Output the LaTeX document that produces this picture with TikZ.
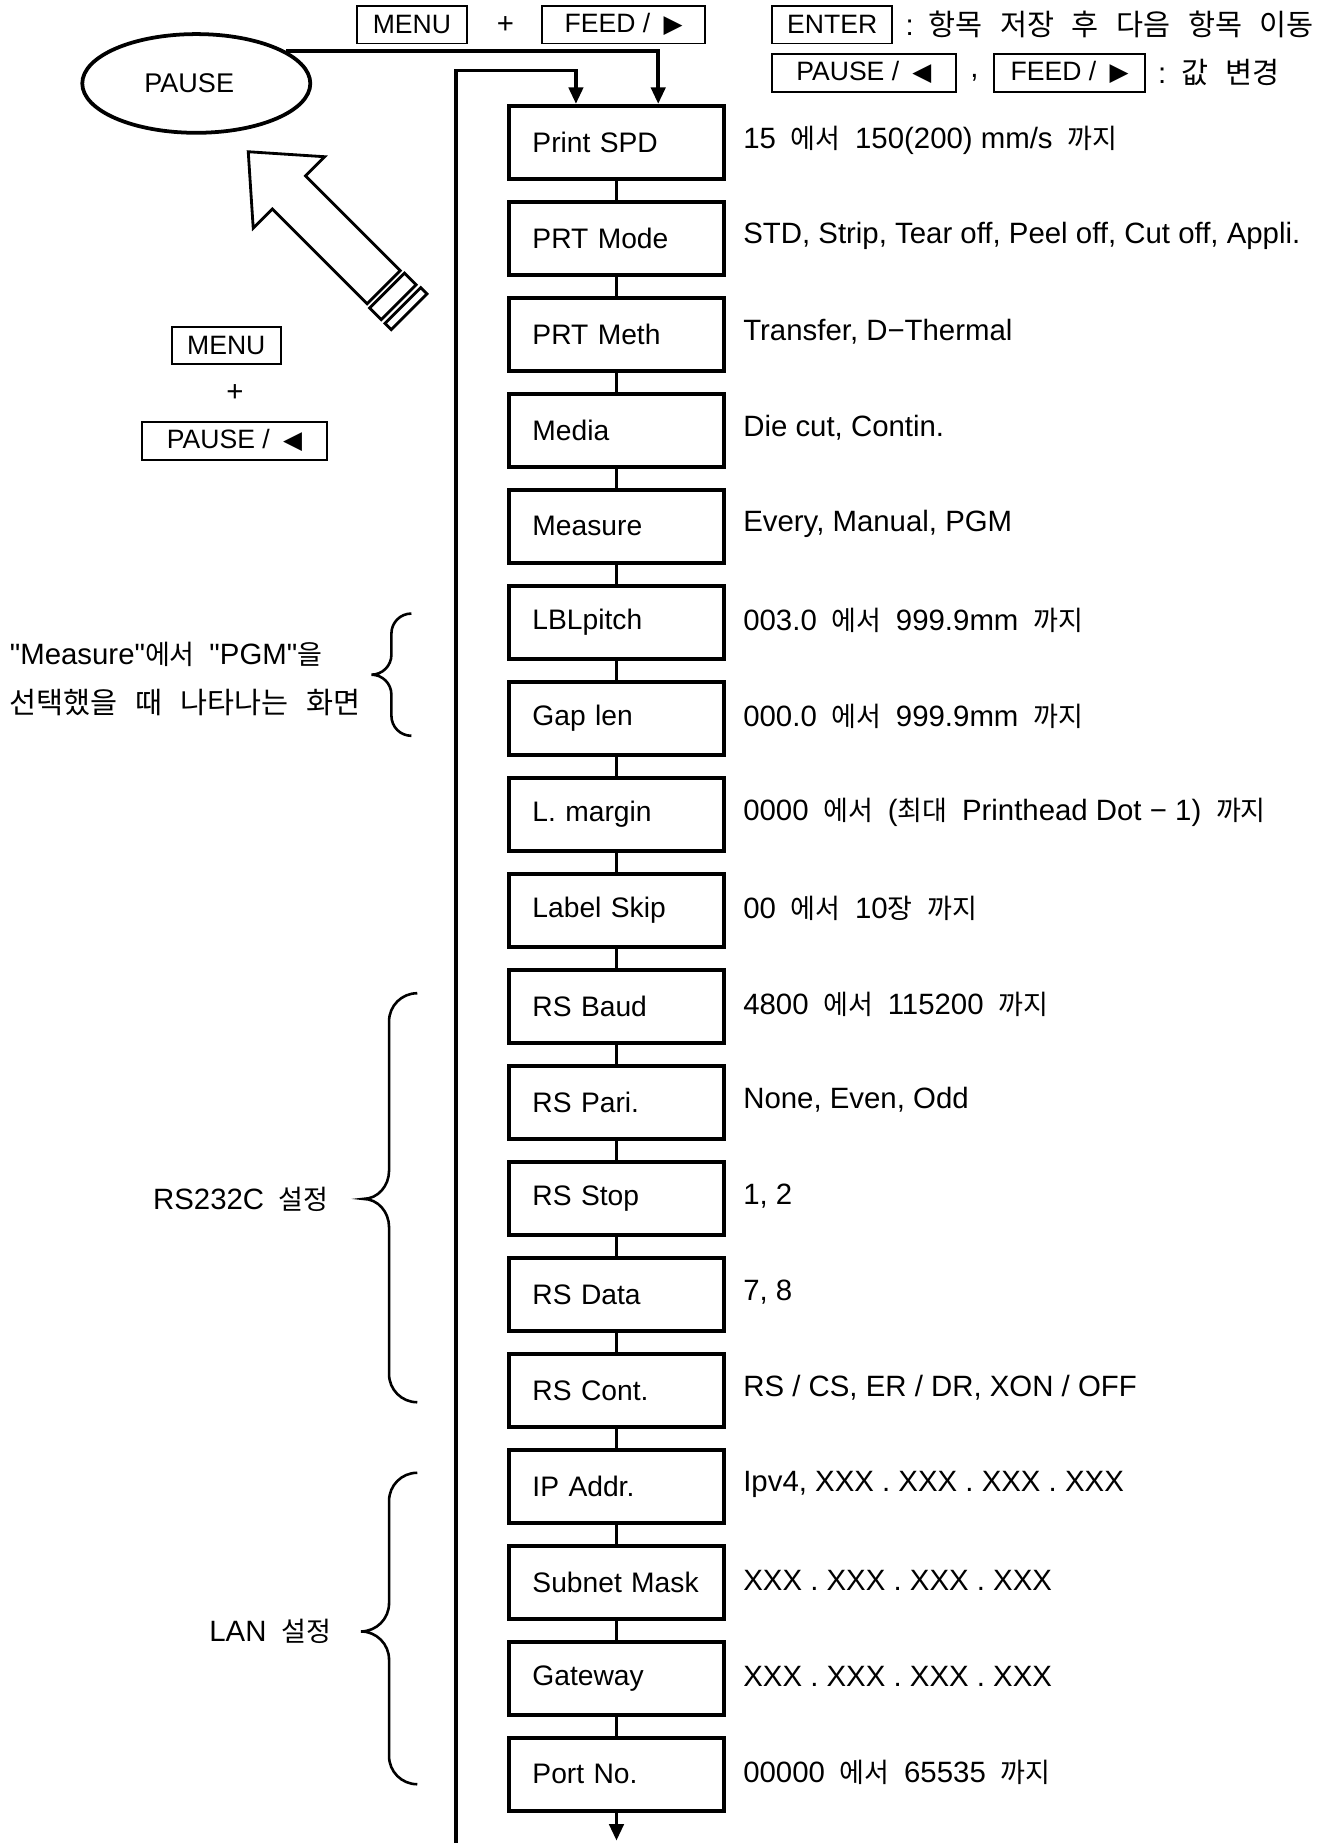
\documentclass[tikz,border=0pt]{standalone}
\usepackage{fontspec}
\setmainfont{Liberation Sans}[Ligatures=TeXOff]
\newfontfamily\krf[Scale=0.92]{Noto Sans CJK KR}
\newfontfamily\krbig{Noto Sans CJK KR}
\newfontfamily\symf{DejaVu Sans}
\usetikzlibrary{shapes.geometric,arrows.meta,calc}
\newcommand\K[1]{{\krf #1}}
\newcommand\W{\hspace{0.5em}}
\newcommand\WW{\hspace{0.6em}}
\newcommand\RT{{\symf\fontsize{10.5}{12}\selectfont ▶}}
\newcommand\LT{{\symf\fontsize{10.5}{12}\selectfont ◀}}
\newcommand\Row[3]{%
  \node[box] (b#1) at (524.5,{121+81.68*#1}) {#2};
  \node[desc] (d#1) at (632,{119+81.68*#1}) {#3};}
\newcommand\Brc[6]{% top, mid, bot, xv, xtip, xend
  \draw[brc] (#6,#1) to[out=180,in=90] (#4,{#1+#6-#4}) -- (#4,{#2-#6+#4})
    to[out=-90,in=0] (#5,#2) to[out=0,in=90] (#4,{#2+#6-#4})
    -- (#4,{#3-#6+#4}) to[out=-90,in=180] (#6,#3);}
\begin{document}
\begin{tikzpicture}[x=0.5pt,y=-0.5pt,
  box/.style={draw,line width=1.6pt,minimum height=31pt,text width=71.5pt,inner xsep=10pt,align=left,font=\fontsize{12}{14}\selectfont},
  desc/.style={anchor=west,inner sep=0pt,font=\fontsize{12.5}{15}\selectfont},
  key/.style={draw,line width=0.8pt,minimum height=16pt,inner sep=0pt,font=\fontsize{11.3}{13}\selectfont},
  conn/.style={line width=1.6pt},
  arr/.style={line width=1.6pt,-{Triangle[length=7pt,width=6pt]}},
  brc/.style={line width=1.1pt},
  lbl/.style={inner sep=0pt,font=\fontsize{12.5}{15}\selectfont},
  hollow/.style={line width=1.2pt,line join=miter}
]
\useasboundingbox (0,0) rectangle (1129,1568);

% top legend
\node[key,minimum width=46.5pt] (kmenu) at (350.5,21) {MENU};
\node[lbl] (plus1) at (430,21) {+};
\node[key,minimum width=69.5pt] (kfeed) at (530.5,21) {FEED /\W\RT};
\node[key,minimum width=51pt] (kenter) at (708,21) {ENTER};
\node[lbl,anchor=west] (tenter) at (770,21) {:\W{\krbig 항목\WW{}저장\WW{}후\WW{}다음\WW{}항목\WW{}이동}};
\node[key,minimum width=78pt] (kpause) at (735,62) {PAUSE /\W\LT};
\node[lbl] (comma) at (829,66) {,};
\node[key,minimum width=64pt] (kfeed2) at (910,62) {FEED /\W\RT};
\node[lbl,anchor=west] (tval) at (985,62) {:\W{\krbig 값\WW{}변경}};

% pause ellipse
\node[ellipse,draw,line width=1.6pt,minimum width=97pt,minimum height=42pt,inner sep=0pt,font=\fontsize{11.5}{13}\selectfont] (pause) at (167,71) {\hspace*{-6pt}PAUSE};

% left keys
\node[key,minimum width=46.5pt] (kmenu2) at (192.5,294) {MENU};
\node[lbl] (plus2) at (200,334) {+};
\node[key,minimum width=78.5pt] (kpause2) at (199.5,375) {PAUSE /\W\LT};

% hollow arrow
\draw[hollow] (211.2,129.1) -- (276.25,133.34) -- (259.99,149.61) -- (340.60,230.22)
  -- (312.32,258.50) -- (231.71,177.89) -- (215.44,194.15) -- cycle;
\draw[hollow] (344.14,232.34) -- (354.04,242.24) -- (324.34,271.94) -- (314.44,262.04) -- cycle;
\draw[hollow] (357.92,244.71) -- (363.23,250.02) -- (332.82,280.42) -- (327.52,275.12) -- cycle;

% rows
\Row{0}{Print SPD}{15\W\K{에서}\W150(200) mm/s\W\K{까지}}
\Row{1}{PRT Mode}{STD, Strip, Tear off, Peel off, Cut off, Appli.}
\Row{2}{PRT Meth}{Transfer, D−Thermal}
\Row{3}{Media}{Die cut, Contin.}
\Row{4}{Measure}{Every, Manual, PGM}
\Row{5}{LBLpitch}{003.0\W\K{에서}\W999.9mm\W\K{까지}}
\Row{6}{Gap len}{000.0\W\K{에서}\W999.9mm\W\K{까지}}
\Row{7}{L. margin}{0000\W\K{에서}\W(\K{최대}\W{}Printhead Dot − 1)\W\K{까지}}
\Row{8}{Label Skip}{00\W\K{에서}\W10\K{장}\W\K{까지}}
\Row{9}{RS Baud}{4800\W\K{에서}\W115200\W\K{까지}}
\Row{10}{RS Pari.}{None, Even, Odd}
\Row{11}{RS Stop}{1, 2}
\Row{12}{RS Data}{7, 8}
\Row{13}{RS Cont.}{RS / CS, ER / DR, XON / OFF}
\Row{14}{IP Addr.}{Ipv4, XXX . XXX . XXX . XXX}
\Row{15}{Subnet Mask}{XXX . XXX . XXX . XXX}
\Row{16}{Gateway}{XXX . XXX . XXX . XXX}
\Row{17}{Port No.}{00000\W\K{에서}\W65535\W\K{까지}}

\foreach \i [evaluate=\i as \j using int(\i+1)] in {0,...,16}
  \draw[conn] (b\i) -- (b\j);

\coordinate (bend) at (524.5,1566);
\draw[arr] (b17) -- (bend);

% loop-back line and entry from PAUSE
\coordinate (lb) at (388,1568);
\coordinate (lt) at (490,60);
\draw[arr] (lb) |- (lt) -- (lt |- b0.north);
\draw[arr] (pause.20) -| ($(b0.north)+(35.5,0)$);

% braces and labels
\Brc{522}{574}{626}{333}{316}{350}
\node[lbl,anchor=west] (m1) at (8,557) {"Measure"\K{에서}\W"PGM"\K{을}};
\node[lbl,anchor=west] (m2) at (8,598) {{\krbig 선택했을\WW{}때\WW{}나타나는\WW{}화면}};
\Brc{845}{1020}{1193}{331}{309}{355}
\node[lbl,anchor=east] (rsl) at (280,1020) {RS232C\W\K{설정}};
\Brc{1253}{1388}{1518}{331}{307}{355}
\node[lbl,anchor=east] (lanl) at (282,1388) {LAN\W\K{설정}};
\end{tikzpicture}
\end{document}
